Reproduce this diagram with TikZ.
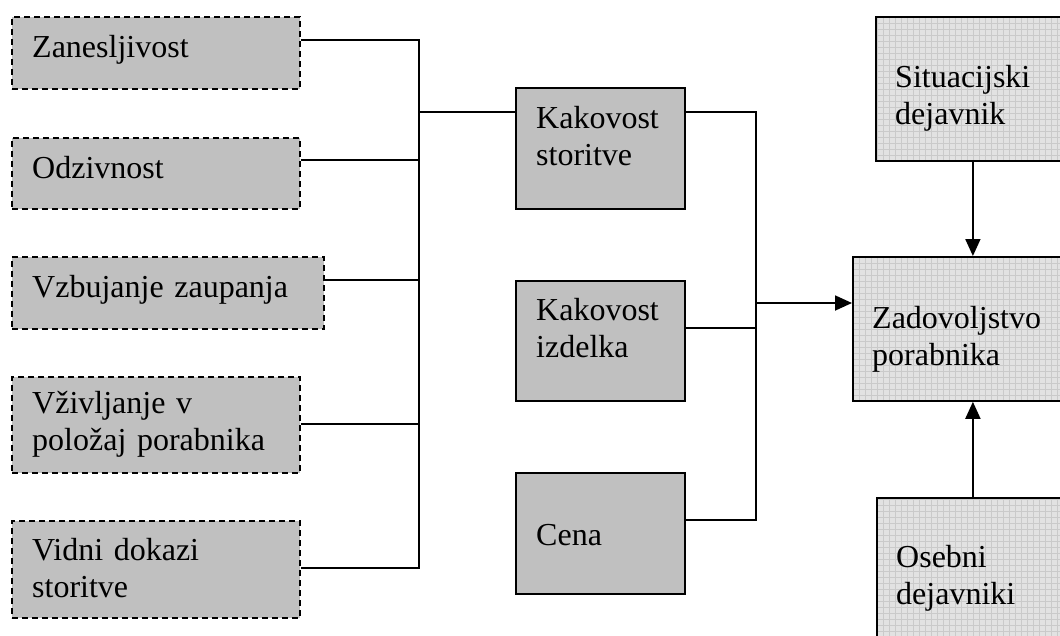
\documentclass[tikz,border=0pt]{standalone}
\usepackage{fontspec}
\setmainfont{Liberation Serif}
\usepackage{xcolor}
\definecolor{boxGray}{HTML}{C0C0C0}
\definecolor{gridFill}{HTML}{E2E2E2}
\definecolor{gridLine}{HTML}{CACACA}
\usetikzlibrary{arrows.meta}

\begin{document}
\begin{tikzpicture}[x=1pt, y=-1pt,
  dimBox/.style={draw, fill=boxGray, dash pattern=on 6pt off 4pt, line width=1.7pt, inner sep=0pt, anchor=north west},
  facBox/.style={draw, fill=boxGray, line width=1.8pt, inner sep=0pt, anchor=north west},
  outBox/.style={draw, fill=gridFill, line width=1.8pt, inner sep=0pt, anchor=north west,
    path picture={\draw[gridLine, line width=0.6pt] (path picture bounding box.south west) grid[step=6pt] (path picture bounding box.north east);}},
  lbl/.style={anchor=base west, inner sep=0pt, text width=300pt, align=left, font=\fontsize{32}{37}\selectfont},
  link/.style={line width=1.8pt},
  arr/.style={link, -{Triangle[length=17pt, width=15pt]}}]
  \useasboundingbox (0,0) rectangle (1060,635);
  \clip (0,0) rectangle (1060,635);

  % dimenzije kakovosti storitve
  \node[dimBox, minimum width=288pt, minimum height=72pt] (zan) at (11,16) {};
  \node[dimBox, minimum width=288pt, minimum height=71pt] (odz) at (11,137) {};
  \node[dimBox, minimum width=312pt, minimum height=72pt] (vzb) at (11,256) {};
  \node[dimBox, minimum width=288pt, minimum height=96pt] (vzi) at (11,376) {};
  \node[dimBox, minimum width=288pt, minimum height=97pt] (vid) at (11,520) {};

  % dejavniki
  \node[facBox, minimum width=169pt, minimum height=121pt] (kst) at (515,87) {};
  \node[facBox, minimum width=169pt, minimum height=120pt] (kiz) at (515,280) {};
  \node[facBox, minimum width=169pt, minimum height=121pt] (cen) at (515,472) {};

  % zadovoljstvo
  \node[outBox, minimum width=194pt, minimum height=144pt] (sit) at (875,16) {};
  \node[outBox, minimum width=240pt, minimum height=144pt] (zad) at (852,256) {};
  \node[outBox, minimum width=192pt, minimum height=170pt] (ose) at (876,497) {};

  \node[lbl] (zan-t) at (32,57) {Zanesljivost};
  \node[lbl] (odz-t) at (32,178) {Odzivnost};
  \node[lbl] (vzb-t) at (32,297) {Vzbujanje zaupanja};
  \node[lbl] (vzi-t) at (32,413) {Vživljanje v\\položaj porabnika};
  \node[lbl] (vid-t) at (32,560) {Vidni dokazi\\storitve};
  \node[lbl] (kst-t) at (536,128) {Kakovost\\storitve};
  \node[lbl] (kiz-t) at (536,320) {Kakovost\\izdelka};
  \node[lbl] (cen-t) at (536,545) {Cena};
  \node[lbl] (sit-t) at (895,87) {Situacijski\\dejavnik};
  \node[lbl] (zad-t) at (872,328) {Zadovoljstvo\\porabnika};
  \node[lbl] (ose-t) at (896,567) {Osebni\\dejavniki};

  % levo vodilo
  \coordinate (lj0) at (419,112);
  \coordinate (lj1) at (419,40);
  \coordinate (lj2) at (419,160);
  \coordinate (lj3) at (419,280);
  \coordinate (lj4) at (419,424);
  \coordinate (lj5) at (419,568);
  \draw[link] (lj1 -| zan.east) -- (lj1) -- (lj5) -- (lj5 -| vid.east);
  \draw[link] (lj2 -| odz.east) -- (lj2);
  \draw[link] (lj3 -| vzb.east) -- (lj3);
  \draw[link] (lj4 -| vzi.east) -- (lj4);
  \draw[link] (lj0) -- (lj0 -| kst.west);

  % desno vodilo
  \coordinate (rj1) at (756,112);
  \coordinate (rj2) at (756,328);
  \coordinate (rj3) at (756,520);
  \coordinate (rja) at (756,303);
  \draw[link] (rj1 -| kst.east) -- (rj1) -- (rj3) -- (rj3 -| cen.east);
  \draw[link] (rj2 -| kiz.east) -- (rj2);
  \draw[arr] (rja) -- (rja -| zad.west);
  \draw[arr] (sit) -- (zad);
  \draw[arr] (ose) -- (zad);
\end{tikzpicture}
\end{document}
